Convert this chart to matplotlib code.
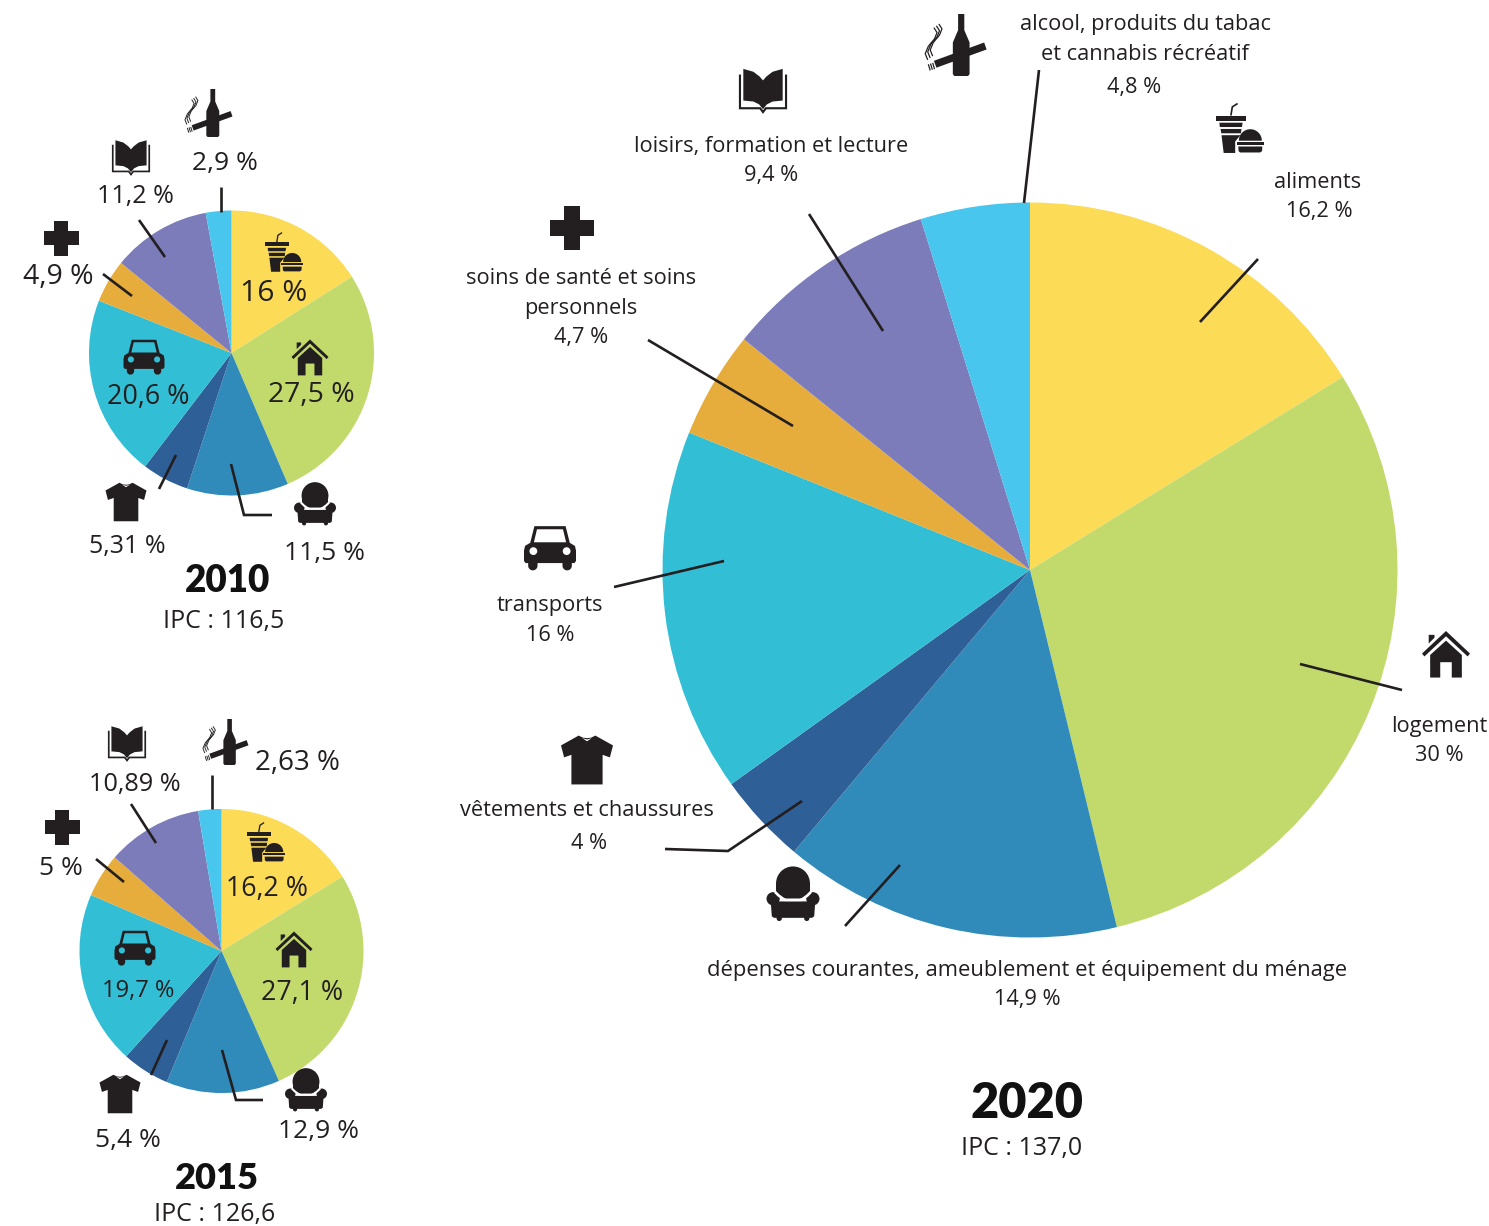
import numpy as np
import matplotlib
matplotlib.use('Agg')
import matplotlib.pyplot as plt
from matplotlib.patches import Polygon, Circle, Ellipse, PathPatch
from matplotlib.path import Path

W, H = 1489, 1226
INK = '#231f20'
plt.rcParams['font.family'] = ['Open Sans', 'DejaVu Sans']

# parts du panier, dans le sens horaire depuis le haut
postes = ['aliments', 'logement', 'depenses', 'vetements', 'transports', 'soins', 'loisirs', 'alcool']
couleurs = ['#fcdc56', '#c2da6c', '#318bba', '#2f5f97', '#32bfd5', '#e7ad3c', '#7b7cb9', '#48c6ee']
valeurs_2010 = [16, 27.5, 11.5, 5.31, 20.6, 4.9, 11.2, 2.9]
valeurs_2015 = [16.2, 27.1, 12.9, 5.4, 19.7, 5, 10.89, 2.63]
valeurs_2020 = [16.2, 30, 14.9, 4, 16, 4.7, 9.4, 4.8]

etiquettes_2020 = ['alcool, produits du tabac', 'et cannabis récréatif', '4,8 %', 'aliments', '16,2 %',
                   'loisirs, formation et lecture', '9,4 %', 'soins de santé et soins', 'personnels', '4,7 %',
                   'transports', '16 %', 'vêtements et chaussures', '4 %', 'logement', '30 %',
                   'dépenses courantes, ameublement et équipement du ménage', '14,9 %']
etiquettes_2010 = ['2,9 %', '11,2 %', '4,9 %', '16 %', '27,5 %', '20,6 %', '5,31 %', '11,5 %']
etiquettes_2015 = ['2,63 %', '10,89 %', '5 %', '16,2 %', '27,1 %', '19,7 %', '5,4 %', '12,9 %']
annees = ['2010', '2015', '2020']
ipc = ['IPC : 116,5', 'IPC : 126,6', 'IPC : 137,0']

# mise en page, en pixels : centre x, centre y, rayon
pie_2010 = (231.5, 353, 142.5)
pie_2015 = (221.5, 951, 142)
pie_2020 = (1030, 570, 367.5)

pos_2020 = [(1145, 22), (1145, 52), (1134, 85), (1318, 180), (1319, 209), (771, 144), (771, 173), (581, 276),
            (581, 306), (581, 335), (550, 603), (550, 633), (587, 808), (589, 841), (1439, 724), (1439, 753),
            (1027, 968), (1027, 997)]
pos_2010 = [(225, 161, 19), (135, 194, 18), (58, 275, 20.4), (274, 291, 21.7),
            (311, 393, 20.4), (148, 394, 19.4), (127, 544, 18), (325, 551, 19)]
pos_2015 = [(297, 760, 20), (135, 782, 18.2), (61, 866, 19), (267, 886, 19.3),
            (302, 990, 19.3), (138, 988, 17), (128, 1138, 19), (318, 1129, 19)]
pos_annees = [(228, 579, 26.5), (217, 1176, 26), (1027, 1101, 35)]
pos_ipc = [(224, 619), (215, 1212), (1022, 1146)]

traits = [
    [(1039, 70), (1024, 203)], [(1258, 259), (1200, 322)], [(1300, 664), (1402, 690)],
    [(900, 865), (845, 926)], [(802, 801), (728, 851), (665, 849)], [(724, 561), (614, 587)],
    [(793, 426), (648, 340)], [(883, 331), (809, 214)],
    [(221, 187), (221, 212)], [(139, 220), (165, 257)], [(103, 274), (132, 296)],
    [(176, 455), (159, 489)], [(231, 464), (244, 515), (272, 515)],
    [(212, 775), (212, 809)], [(131, 804), (156, 843)], [(96, 859), (124, 882)],
    [(167, 1040), (151, 1075)], [(222, 1050), (236, 1100), (263, 1100)],
]


def rond(x, y, r):
    t = np.linspace(0, 2 * np.pi, 40)[:-1]
    return list(zip(x + r * np.cos(t), y + r * np.sin(t)))


def forme(ax, pts, cx, cy, s, fc=INK):
    p = np.array(pts) * s + [cx, cy]
    ax.add_patch(Polygon(p, closed=True, fc=fc, ec='none'))


def trait(ax, pts, cx, cy, s, lw, color=INK):
    p = np.array(pts) * s + [cx, cy]
    ax.plot(p[:, 0], p[:, 1], color=color, lw=lw * s * 0.72, solid_capstyle='butt')


def orient(pts, sens):
    p = np.array(pts)
    aire = np.sum(p[:, 0] * np.roll(p[:, 1], -1) - np.roll(p[:, 0], -1) * p[:, 1])
    return p if aire * sens > 0 else p[::-1]


# forme avec des trous, le fond reste visible
def troue(ax, ext, trous, cx, cy, s):
    morceaux = [orient(ext, 1)] + [orient(t, -1) for t in trous]
    paths = [Path(np.vstack([m, m[0]]) * s + [cx, cy], closed=True) for m in morceaux]
    ax.add_patch(PathPatch(Path.make_compound_path(*paths), fc=INK, ec='none'))


def croix(ax, cx, cy, s):
    a, b = 0.19, 0.5
    forme(ax, [(-a, -b), (a, -b), (a, -a), (b, -a), (b, a), (a, a), (a, b), (-a, b), (-a, a), (-b, a), (-b, -a), (-a, -a)], cx, cy, s)


def livre(ax, cx, cy, s):
    forme(ax, [(-.41, -.44), (-.2, -.38), (-.07, -.28), (0, -.2), (.07, -.28), (.2, -.38), (.41, -.44),
               (.41, .22), (.2, .24), (.08, .3), (0, .4), (-.08, .3), (-.2, .24), (-.41, .22)], cx, cy, s)
    p = np.array([(-.48, -.3), (-.48, .38), (-.06, .38), (0, .46), (.06, .38), (.48, .38), (.48, -.3)]) * s + [cx, cy]
    ax.plot(p[:, 0], p[:, 1], color=INK, lw=s * 0.032, solid_joinstyle='miter')


def maison(ax, cx, cy, s):
    forme(ax, [(0, -.5), (.5, -.03), (.45, .03), (0, -.39), (-.45, .03), (-.5, -.03)], cx, cy, s)
    forme(ax, [(0, -.30), (.33, 0), (.33, .47), (.12, .47), (.12, .15), (-.12, .15), (-.12, .47), (-.33, .47), (-.33, 0)], cx, cy, s)
    forme(ax, [(-.36, -.42), (-.24, -.42), (-.24, -.36), (-.36, -.24)], cx, cy, s)


def auto(ax, cx, cy, s):
    ext = [(-.30, -.42), (.30, -.42), (.38, -.1), (.48, -.04), (.5, .05), (.5, .25), (.47, .29), (-.47, .29), (-.5, .25), (-.5, .05), (-.48, -.04), (-.38, -.1)]
    vitre = [(-.25, -.36), (.25, -.36), (.31, -.11), (-.31, -.11)]
    troue(ax, ext, [vitre, rond(-.32, .06, .075), rond(.32, .06, .075)], cx, cy, s)
    for x in (-.33, .33):
        forme(ax, [(x - .09, .25), (x + .09, .25), (x + .09, .34)] + rond(x, .34, .09)[:20], cx, cy, s)


def chandail(ax, cx, cy, s):
    forme(ax, [(-.16, -.47), (-.08, -.43), (0, -.42), (.08, -.43), (.16, -.47), (.5, -.28), (.44, -.05), (.3, -.1),
               (.3, .47), (-.3, .47), (-.3, -.1), (-.44, -.05), (-.5, -.28)], cx, cy, s)
    forme(ax, [(-.09, -.42), (0, -.395), (.09, -.42), (0, -.36)], cx, cy, s, fc='white')


def fauteuil(ax, cx, cy, s):
    ax.add_patch(Ellipse((cx, cy - .2 * s), .64 * s, .64 * s, fc=INK, ec='none'))
    forme(ax, [(-.32, -.2), (.32, -.2), (.32, .08), (-.32, .08)], cx, cy, s)
    trait(ax, [(-.34, -.04), (-.27, .03), (-.16, .11), (.16, .11), (.27, .03), (.34, -.04)], cx, cy, s, .05, 'white')
    for x in (-.375, .375):
        ax.add_patch(Circle((cx + x * s, cy + .09 * s), .125 * s, fc=INK, ec='none'))
    forme(ax, [(-.42, .14), (.42, .14), (.4, .42), (.36, .45), (-.36, .45), (-.4, .42)], cx, cy, s)
    for x in (-.26, .26):
        ax.add_patch(Circle((cx + x * s, cy + .46 * s), .05 * s, fc=INK, ec='none'))


def repas(ax, cx, cy, s):
    forme(ax, [(-.5, -.26), (.125, -.26), (.125, -.155), (-.5, -.155)], cx, cy, s)
    trait(ax, [(-.19, -.26), (-.16, -.44), (-.05, -.51)], cx, cy, s, .035)
    forme(ax, [(-.43, -.11), (.055, -.11), (.04, -.02), (-.42, -.02)], cx, cy, s)
    forme(ax, [(-.405, .02), (.03, .02), (.02, .11), (-.39, .11)], cx, cy, s)
    forme(ax, [(-.385, .15), (.01, .15), (-.1, .28), (-.1, .52), (-.34, .52)], cx, cy, s)
    t = np.linspace(np.pi, 2 * np.pi, 20)
    forme(ax, list(zip(.215 + .24 * np.cos(t), .265 + .24 * np.sin(t))), cx, cy, s)
    forme(ax, [(-.07, .29), (.5, .29), (.5, .35), (-.07, .35)], cx, cy, s)
    forme(ax, [(-.035, .385), (.465, .385), (.46, .48), (.42, .51), (0, .51), (-.03, .48)], cx, cy, s)


def interdit(ax, cx, cy, s):
    x = .1
    forme(ax, [(x - .05, -.5), (x + .05, -.5), (x + .05, -.24), (x + .135, -.04), (x + .135, .47), (x + .11, .5),
               (x - .11, .5), (x - .135, .47), (x - .135, -.04), (x - .05, -.24)], cx, cy, s)
    forme(ax, [(-.34, .255), (.47, -.04), (.51, .072), (-.30, .366)], cx, cy, s)
    for dx in (0, .035, .07):
        trait(ax, [(-.43 + dx, .31 - dx * .3), (-.40 + dx, .41 - dx * .3)], cx, cy, s, .02)
    for dx, hh in ((0, 0), (.04, .03), (.08, .06)):
        trait(ax, [(-.44 + dx, .24 - hh), (-.48 + dx, .14 - hh), (-.43 + dx, .02 - hh), (-.33 + dx, -.10 - hh),
                   (-.29 + dx, -.2 - hh), (-.34 + dx, -.28 - hh)], cx, cy, s, .02)


def camembert(fig, valeurs, c):
    cx, cy, r = c
    ax = fig.add_axes([(cx - r) / W, 1 - (cy + r) / H, 2 * r / W, 2 * r / H])
    ax.pie(valeurs, colors=couleurs, startangle=90, counterclock=False, radius=1, wedgeprops={'linewidth': 0, 'clip_on': False})
    ax.set_xlim(-1, 1)
    ax.set_ylim(-1, 1)
    ax.axis('off')


fig = plt.figure(figsize=(W / 100, H / 100), dpi=100, facecolor='white')
camembert(fig, valeurs_2010, pie_2010)
camembert(fig, valeurs_2015, pie_2015)
camembert(fig, valeurs_2020, pie_2020)

# calque en pixels pour textes, traits et icones
top = fig.add_axes([0, 0, 1, 1], zorder=5)
top.set_xlim(0, W)
top.set_ylim(H, 0)
top.axis('off')
top.patch.set_alpha(0)

for t in traits:
    p = np.array(t)
    top.plot(p[:, 0], p[:, 1], color=INK, lw=1.9, solid_capstyle='butt', solid_joinstyle='miter')

DY = 2.5
for s, (x, y) in zip(etiquettes_2020, pos_2020):
    fs = 15.85 if len(s) > 40 else 15.65
    top.text(x, y + DY, s, ha='center', va='center', fontsize=fs, color=INK)
for s, (x, y, fs) in zip(etiquettes_2010, pos_2010):
    top.text(x, y + DY, s, ha='center', va='center', fontsize=fs, color=INK)
for s, (x, y, fs) in zip(etiquettes_2015, pos_2015):
    top.text(x, y + DY, s, ha='center', va='center', fontsize=fs, color=INK)
for s, (x, y, fs) in zip(annees, pos_annees):
    top.text(x, y + DY, s, ha='center', va='center', fontsize=fs, fontweight='heavy', color='#111111', family=['Lato', 'DejaVu Sans'])
for s, (x, y) in zip(ipc, pos_ipc):
    top.text(x, y + DY, s, ha='center', va='center', fontsize=18, color=INK)

for fn, x, y, s in [
    (interdit, 955, 45, 62), (repas, 1240, 128, 48), (livre, 763, 90, 48), (croix, 572, 228, 44),
    (auto, 550, 548, 52), (chandail, 587, 760, 52), (fauteuil, 793, 894, 53), (maison, 1446, 655, 48),
    (interdit, 208, 113, 48), (repas, 284, 252, 38), (maison, 310, 358, 37), (auto, 144, 357, 41),
    (croix, 61, 238, 35), (livre, 131, 157, 38), (chandail, 126, 502, 41), (fauteuil, 315, 504, 42),
    (interdit, 225, 742, 46), (repas, 266, 842, 38), (maison, 294, 950, 37), (auto, 135, 948, 41),
    (croix, 62, 827, 35), (livre, 127, 743, 38), (chandail, 120, 1094, 41), (fauteuil, 306, 1090, 42),
]:
    fn(top, x, y, s)

fig.savefig('out.png', dpi=100)
